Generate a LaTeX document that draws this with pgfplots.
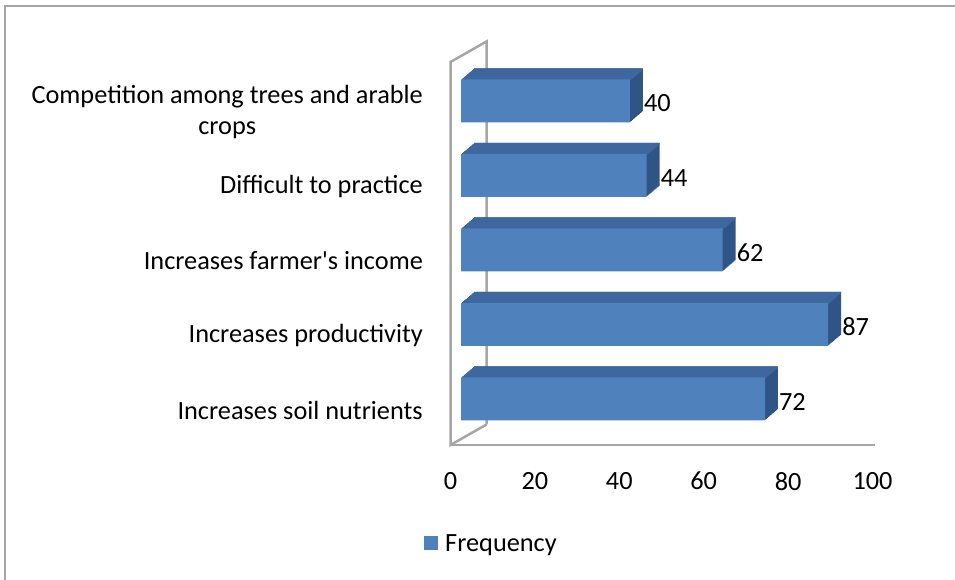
\documentclass[border=0pt]{standalone}
\usepackage{pgfplots}
\pgfplotsset{compat=1.18}
\usepackage{pgfplotstable}
\usepackage{fontspec}
\setmainfont{Carlito}[Ligatures=TeXOff]
\definecolor{front}{HTML}{4F81BD}
\definecolor{topc}{HTML}{3D679E}
\definecolor{sidec}{HTML}{2F5587}
\definecolor{wall}{HTML}{A6A6A6}

\pgfplotstableread{
y val
0 72
1 87
2 62
3 44
4 40
}\freq

\begin{document}
\begin{tikzpicture}[font=\fontsize{26.3bp}{30.5bp}\selectfont]
\useasboundingbox (0,0) rectangle (955bp,580bp);
\draw[wall, line width=2.5bp] (5bp,0) -- (5bp,574bp) -- (955bp,574bp);
\begin{axis}[
  at={(450.5bp,135bp)}, anchor=south west,
  x=4.22bp, y=74.5bp,
  xmin=0, xmax=100, ymin=-0.47, ymax=4.671,
  axis line style={draw=none},
  major tick length=0pt,
  xtick={0,20,...,100},
  ytick={0,...,4},
  yticklabels={Increases soil nutrients, Increases productivity, Increases farmer's income, Difficult to practice, {Competition among trees and arable\\crops}},
  yticklabel style={align=center, inner sep=0pt, anchor=east, xshift=-27.5bp},
  xticklabel style={inner sep=0pt, anchor=north, yshift=-27bp},
  /pgf/number format/assume math mode=true,
  clip=false,
  bar width=43bp,
  legend style={at={(-0.0628,-0.258)}, anchor=west, draw=none, fill=none, inner sep=0pt,
    /tikz/every odd column/.append style={column sep=5bp}},
]
% walls
\draw[wall, line width=2.5bp] ([shift={(36bp,20.5bp)}]axis cs:0,-0.47) -- ([shift={(36bp,20.5bp)}]axis cs:0,4.671) -- (axis cs:0,4.671) -- (axis cs:0,-0.47) -- ([shift={(36bp,20.5bp)}]axis cs:0,-0.47);
\draw[wall, line width=2.5bp] (axis cs:0,-0.47) -- (axis cs:100.5,-0.47);
% side extrusion
\pgfplotsinvokeforeach{13,12,...,1}{
  \addplot[xbar, bar shift=0pt, fill=sidec, draw=none, forget plot, xshift={10.5bp+#1bp}, yshift={11bp+#1*0.846bp}] table[x=val,y=y]{\freq};
}
% top extrusion
\pgfplotsinvokeforeach{13,12,...,1}{
  \addplot[xbar, bar width=1.7bp, bar shift=20.65bp, fill=topc, draw=none, forget plot, xshift={10.5bp+#1bp}, yshift={11bp+#1*0.846bp}] table[x=val,y=y]{\freq};
}
% front face
\addplot[xbar, bar shift=0pt, fill=front, draw=none, xshift=10.5bp, yshift=11bp,
  legend image code/.code={\fill[front] (0bp,-17bp) rectangle (14bp,-3bp);}] table[x=val,y=y]{\freq};
\addlegendentry{Frequency}
% value labels
\addplot[xbar, bar shift=0pt, draw=none, fill=none, forget plot, point meta=x,
  nodes near coords, nodes near coords style={anchor=west, inner sep=0pt, xshift=24.5bp, yshift=8.5bp, text=black}] table[x=val,y=y]{\freq};
\end{axis}
\end{tikzpicture}
\end{document}
